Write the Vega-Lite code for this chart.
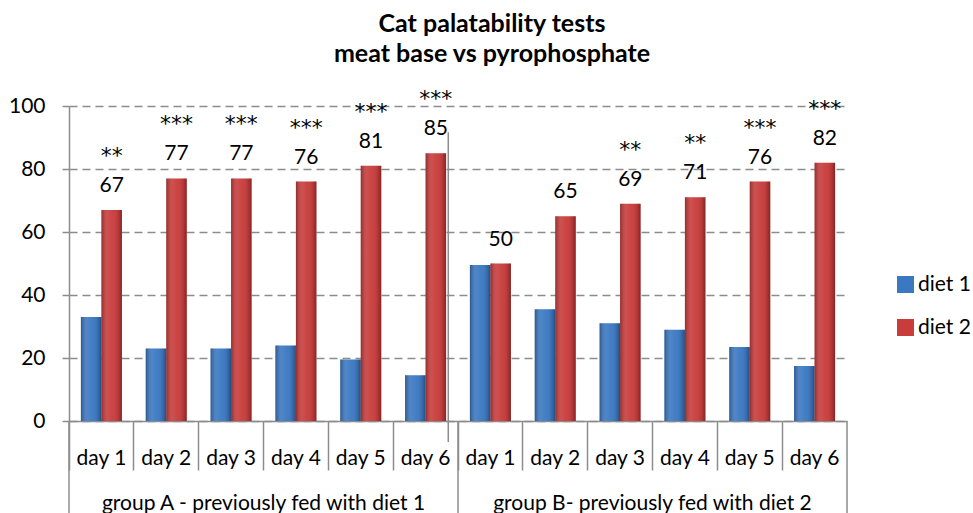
{
  "$schema": "https://vega.github.io/schema/vega-lite/v6.json",
  "width": 778,
  "height": 315,
  "autosize": "none",
  "padding": {"left": 69, "top": 106, "right": 126, "bottom": 92},
  "background": "white",
  "config": {
    "font": "Lato",
    "view": {"stroke": null},
    "title": {"font": "Lato", "fontSize": 25, "fontWeight": "bold", "color": "black"}
  },
  "title": {
    "text": ["Cat palatability tests", "meat base vs pyrophosphate"],
    "anchor": "middle",
    "frame": "group",
    "dx": 34,
    "offset": 21,
    "lineHeight": 30
  },
  "datasets": {
    "main": [
      {"cat": "A1", "diet": "diet 1", "value": 33, "sig": ""},
      {"cat": "A1", "diet": "diet 2", "value": 67, "sig": "**"},
      {"cat": "A2", "diet": "diet 1", "value": 23, "sig": ""},
      {"cat": "A2", "diet": "diet 2", "value": 77, "sig": "***"},
      {"cat": "A3", "diet": "diet 1", "value": 23, "sig": ""},
      {"cat": "A3", "diet": "diet 2", "value": 77, "sig": "***"},
      {"cat": "A4", "diet": "diet 1", "value": 24, "sig": ""},
      {"cat": "A4", "diet": "diet 2", "value": 76, "sig": "***"},
      {"cat": "A5", "diet": "diet 1", "value": 19.5, "sig": ""},
      {"cat": "A5", "diet": "diet 2", "value": 81, "sig": "***"},
      {"cat": "A6", "diet": "diet 1", "value": 14.5, "sig": ""},
      {"cat": "A6", "diet": "diet 2", "value": 85, "sig": "***"},
      {"cat": "B1", "diet": "diet 1", "value": 49.5, "sig": ""},
      {"cat": "B1", "diet": "diet 2", "value": 50, "sig": ""},
      {"cat": "B2", "diet": "diet 1", "value": 35.5, "sig": ""},
      {"cat": "B2", "diet": "diet 2", "value": 65, "sig": ""},
      {"cat": "B3", "diet": "diet 1", "value": 31, "sig": ""},
      {"cat": "B3", "diet": "diet 2", "value": 69, "sig": "**"},
      {"cat": "B4", "diet": "diet 1", "value": 29, "sig": ""},
      {"cat": "B4", "diet": "diet 2", "value": 71, "sig": "**"},
      {"cat": "B5", "diet": "diet 1", "value": 23.5, "sig": ""},
      {"cat": "B5", "diet": "diet 2", "value": 76, "sig": "***"},
      {"cat": "B6", "diet": "diet 1", "value": 17.5, "sig": ""},
      {"cat": "B6", "diet": "diet 2", "value": 82, "sig": "***"}
    ],
    "groups": [
      {"cat": "A3", "label": "group A - previously fed with diet 1"},
      {"cat": "B3", "label": "group B- previously fed with diet 2"}
    ],
    "startSeps": [{"cat": "A1"}, {"cat": "B1"}],
    "endSeps": [{"cat": "B6"}]
  },
  "data": {"name": "main"},
  "layer": [
    {
      "mark": {"type": "bar"},
      "encoding": {
        "x": {
          "field": "cat", "type": "nominal",
          "scale": {"paddingInner": 0, "paddingOuter": 0},
          "axis": {
            "orient": "bottom", "title": null, "bandPosition": 0,
            "tickSize": 49, "tickColor": "#8c8c8c", "tickWidth": 1.5,
            "domainColor": "#8c8c8c", "domainWidth": 1.5,
            "labelExpr": "'day ' + substring(datum.value, 1)",
            "labelFontSize": 21, "labelColor": "black", "labelAngle": 0,
            "labelPadding": -6, "labelBaseline": "alphabetic", "grid": false
          }
        },
        "xOffset": {"field": "diet", "type": "nominal", "scale": {"paddingInner": 0, "paddingOuter": 0.58}},
        "y": {
          "field": "value", "type": "quantitative",
          "scale": {"domain": [0, 100], "nice": false},
          "axis": {
            "title": null, "values": [0, 20, 40, 60, 80, 100],
            "grid": true, "gridColor": "#8c8c8c", "gridDash": [8, 5], "gridWidth": 1.5,
            "domainColor": "#8c8c8c", "domainWidth": 1.5,
            "tickColor": "#8c8c8c", "tickWidth": 1.5, "tickSize": 7,
            "labelFontSize": 21, "labelColor": "black", "labelPadding": 17
          }
        },
        "color": {
          "field": "diet", "type": "nominal",
          "scale": {"domain": ["diet 1", "diet 2"], "range": ["#3B78C2", "#C83C3B"]},
          "legend": {
            "title": null, "orient": "none", "legendX": 826, "legendY": 168,
            "symbolType": "square", "symbolSize": 289, "symbolStrokeWidth": 0,
            "labelFontSize": 21, "labelColor": "black", "labelOffset": 2,
            "rowPadding": 21
          }
        }
      }
    },
    {
      "mark": {
        "type": "bar",
        "fill": {
          "gradient": "linear", "x1": 0, "x2": 1, "y1": 0, "y2": 0,
          "stops": [
            {"offset": 0, "color": "rgba(0,0,0,0.28)"},
            {"offset": 0.3, "color": "rgba(255,255,255,0.10)"},
            {"offset": 0.55, "color": "rgba(255,255,255,0.04)"},
            {"offset": 0.85, "color": "rgba(0,0,0,0.12)"},
            {"offset": 1, "color": "rgba(0,0,0,0.35)"}
          ]
        }
      },
      "encoding": {
        "x": {"field": "cat", "type": "nominal"},
        "xOffset": {"field": "diet", "type": "nominal"},
        "y": {"field": "value", "type": "quantitative"}
      }
    },
    {
      "transform": [{"filter": "datum.diet == 'diet 2'"}],
      "mark": {"type": "text", "fontSize": 21, "color": "black", "baseline": "middle", "dy": -24},
      "encoding": {
        "x": {"field": "cat", "type": "nominal"},
        "xOffset": {"field": "diet", "type": "nominal"},
        "y": {"field": "value", "type": "quantitative"},
        "text": {"field": "value", "type": "quantitative"}
      }
    },
    {
      "transform": [{"filter": "datum.diet == 'diet 2'"}],
      "mark": {"type": "text", "font": "DejaVu Sans", "fontSize": 22, "color": "black", "baseline": "middle", "dy": -54},
      "encoding": {
        "x": {"field": "cat", "type": "nominal"},
        "xOffset": {"field": "diet", "type": "nominal"},
        "y": {"field": "value", "type": "quantitative"},
        "text": {"field": "sig", "type": "nominal"}
      }
    },
    {
      "data": {"name": "groups"},
      "mark": {"type": "text", "fontSize": 21, "color": "black", "baseline": "alphabetic", "dy": 89},
      "encoding": {
        "x": {"field": "cat", "type": "nominal", "bandPosition": 1},
        "y": {"datum": 0},
        "text": {"field": "label", "type": "nominal"}
      }
    },
    {
      "data": {"name": "startSeps"},
      "mark": {"type": "rule", "color": "#8c8c8c", "strokeWidth": 1.5},
      "encoding": {
        "x": {"field": "cat", "type": "nominal", "bandPosition": 0},
        "y": {"datum": 0},
        "y2": {"datum": -30}
      }
    },
    {
      "data": {"name": "endSeps"},
      "mark": {"type": "rule", "color": "#8c8c8c", "strokeWidth": 1.5},
      "encoding": {
        "x": {"field": "cat", "type": "nominal", "bandPosition": 1},
        "y": {"datum": 0},
        "y2": {"datum": -30}
      }
    },
    {
      "data": {"values": [{"cat": "A6"}]},
      "mark": {"type": "rule", "color": "#8c8c8c", "strokeWidth": 1.5},
      "encoding": {
        "x": {"field": "cat", "type": "nominal", "bandPosition": 0.85},
        "y": {"datum": 91.7},
        "y2": {"datum": -6.7}
      }
    }
  ]
}
